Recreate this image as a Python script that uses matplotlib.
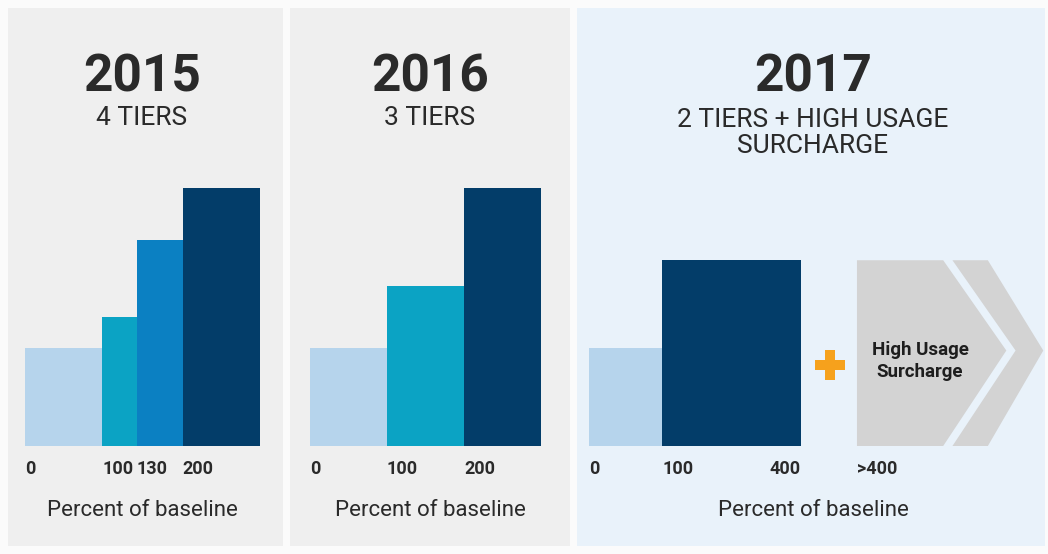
import matplotlib.pyplot as plt
from matplotlib.patches import Rectangle, Polygon

plt.rcParams['font.family'] = ['Roboto', 'DejaVu Sans']

# colours
light = "#b6d4ec"
teal = "#0ba3c4"
mid = "#0b80c2"
navy = "#033d69"
chev_gray = "#d3d3d3"
orange = "#f6a11c"
text_dark = "#2a2a2a"

# data (heights relative to tallest tier = 100,
# widths are the schematic tier widths)
years = ["2015", "2016", "2017"]
subtitles = ["4 TIERS", "3 TIERS", "2 TIERS + HIGH USAGE\nSURCHARGE"]

tiers_2015 = ["0", "100", "130", "200"]
widths_2015 = [1.0, 0.45, 0.6, 1.0]
heights_2015 = [38, 50, 80, 100]
colors_2015 = [light, teal, mid, navy]

tiers_2016 = ["0", "100", "200"]
widths_2016 = [1.0, 1.0, 1.0]
heights_2016 = [38, 62, 100]
colors_2016 = [light, teal, navy]

tiers_2017 = ["0", "100", "400"]
widths_2017 = [0.95, 1.8]
heights_2017 = [38, 72]
colors_2017 = [light, navy]
surcharge_tick = ">400"
surcharge_text = "High Usage\nSurcharge"

W, H = 1048, 554
UNIT = 77      # px per schematic tier width
YPX = 258      # px for 100 height units
BASE = 446     # baseline, px from top

fig = plt.figure(figsize=(W / 100, H / 100), dpi=100)
fig.patch.set_facecolor("#fbfbfb")

# panel backgrounds
for x0, x1, c in [(8, 283, "#efefef"), (290, 570, "#efefef"), (577, 1045, "#e9f2fa")]:
    fig.patches.append(Rectangle((x0 / W, 8 / H), (x1 - x0) / W, (546 - 8) / H,
                                 transform=fig.transFigure, facecolor=c,
                                 edgecolor="none", zorder=-5))

centers = [142, 430, 813]
for cx, yr, sub in zip(centers, years, subtitles):
    fig.text(cx / W, 1 - 77 / H, yr, ha="center", va="center", fontsize=37,
             fontweight="bold", color=text_dark)
    if "\n" in sub:
        fig.text(cx / W, 1 - 133 / H, sub, ha="center", va="center", fontsize=19,
                 color=text_dark, linespacing=1.1)
    else:
        fig.text(cx / W, 1 - 118 / H, sub, ha="center", va="center", fontsize=19,
                 color=text_dark)
    fig.text(cx / W, 1 - 511 / H, "Percent of baseline", ha="center", va="center",
             fontsize=16, color=text_dark)


def make_ax(left_px, xmax):
    ax = fig.add_axes([left_px / W, 1 - BASE / H, xmax * UNIT / W, YPX / H])
    ax.set_xlim(0, xmax)
    ax.set_ylim(0, 100)
    ax.patch.set_alpha(0)
    for s in ax.spines.values():
        s.set_visible(False)
    ax.set_yticks([])
    ax.tick_params(axis="x", length=0, pad=10, labelsize=13, labelcolor=text_dark)
    return ax


def draw_tiers(ax, widths, heights, colors):
    lefts = [sum(widths[:i]) for i in range(len(widths))]
    ax.bar(lefts, heights, width=widths, align="edge", color=colors, linewidth=0)
    return lefts


ax1 = make_ax(25, sum(widths_2015))
l1 = draw_tiers(ax1, widths_2015, heights_2015, colors_2015)
ax1.set_xticks(l1, tiers_2015, fontweight="bold")
for t in ax1.get_xticklabels():
    t.set_ha("left")

ax2 = make_ax(310, sum(widths_2016))
l2 = draw_tiers(ax2, widths_2016, heights_2016, colors_2016)
ax2.set_xticks(l2, tiers_2016, fontweight="bold")
for t in ax2.get_xticklabels():
    t.set_ha("left")

ax3 = make_ax(589, 6.0)
l3 = draw_tiers(ax3, widths_2017, heights_2017, colors_2017)
end3 = sum(widths_2017)
chev_x = end3 + 0.73
ax3.set_xticks(l3 + [end3, chev_x], tiers_2017[:2] + [tiers_2017[2], surcharge_tick],
               fontweight="bold")
labs = ax3.get_xticklabels()
for t in labs:
    t.set_ha("left")
labs[2].set_ha("right")

# plus sign
ax3.plot([end3 + 0.38], [31.5], marker="P", markersize=22, color=orange,
         markeredgewidth=0, clip_on=False)

# surcharge chevrons
top = heights_2017[-1]
mid_y = top / 2 + 1
c1 = [(chev_x, 0), (chev_x, top), (chev_x + 1.12, top), (chev_x + 1.94, mid_y),
      (chev_x + 1.12, 0)]
ax3.add_patch(Polygon(c1, closed=True, facecolor=chev_gray, edgecolor="none",
                      clip_on=False))
g = 0.12
c2 = [(chev_x + 1.12 + g, 0), (chev_x + 1.94 + g, mid_y), (chev_x + 1.12 + g, top),
      (chev_x + 1.12 + g + 0.46, top), (chev_x + 2.42, mid_y),
      (chev_x + 1.12 + g + 0.46, 0)]
ax3.add_patch(Polygon(c2, closed=True, facecolor=chev_gray, edgecolor="none",
                      clip_on=False))
ax3.text(chev_x + 0.82, 33, surcharge_text, ha="center", va="center",
         fontsize=13.5, fontweight="bold", color="#1e1e1e", linespacing=1.3)

fig.savefig("out.png", dpi=100, facecolor=fig.get_facecolor())
